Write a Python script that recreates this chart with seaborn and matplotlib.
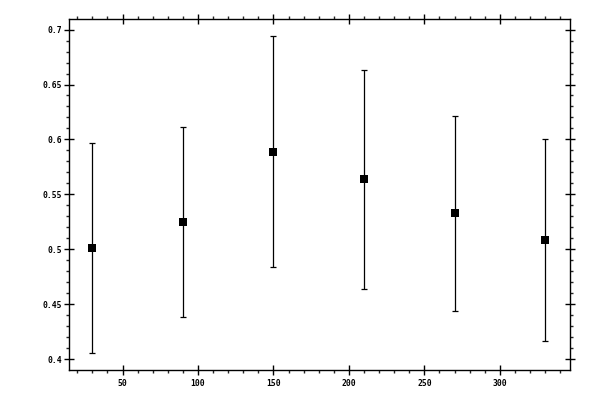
import matplotlib
matplotlib.use("Agg")
import matplotlib.pyplot as plt
from matplotlib.ticker import MultipleLocator, FormatStrFormatter
import seaborn as sns
import pandas as pd

# values
angles = [30, 90, 150, 210, 270, 330]
means = [0.501, 0.5245, 0.589, 0.5636, 0.5327, 0.5082]
errors = [0.0955, 0.0864, 0.1050, 0.0999, 0.0884, 0.0918]

df = pd.DataFrame({"angle": angles, "mean": means, "err": errors})

sns.set_style("ticks")
plt.rcParams["font.family"] = ["DejaVu Sans Mono"]

fig = plt.figure(figsize=(6, 4), dpi=100)
ax = fig.add_axes([0.115, 0.075, 0.835, 0.877])

ax.errorbar(df["angle"], df["mean"], yerr=df["err"], fmt="none",
            ecolor="black", elinewidth=0.9, capsize=2.4, capthick=0.9, zorder=2)
sns.scatterplot(data=df, x="angle", y="mean", marker="s", s=34,
                color="black", edgecolor="black", linewidth=0, ax=ax, zorder=3)

ax.set_xlim(14.5, 346.5)
ax.set_ylim(0.3903, 0.7094)
ax.set_xlabel("")
ax.set_ylabel("")

ax.xaxis.set_major_locator(MultipleLocator(50))
ax.xaxis.set_minor_locator(MultipleLocator(10))
ax.yaxis.set_major_locator(MultipleLocator(0.05))
ax.yaxis.set_minor_locator(MultipleLocator(0.01))
ax.yaxis.set_major_formatter(FormatStrFormatter("%g"))

for side in ax.spines.values():
    side.set_linewidth(1.0)
    side.set_color("black")

ax.tick_params(which="major", direction="inout", length=6.5, width=1.0,
               top=True, right=True, labelsize=5.8, colors="black")
ax.tick_params(axis="y", which="major", pad=1.8)
ax.tick_params(axis="x", which="major", pad=3.0)
ax.tick_params(which="minor", direction="out", length=2.5, width=1.0,
               top=True, right=True)
for lbl in ax.get_xticklabels() + ax.get_yticklabels():
    lbl.set_fontweight("bold")

fig.savefig("out.png", dpi=100, facecolor="white")
